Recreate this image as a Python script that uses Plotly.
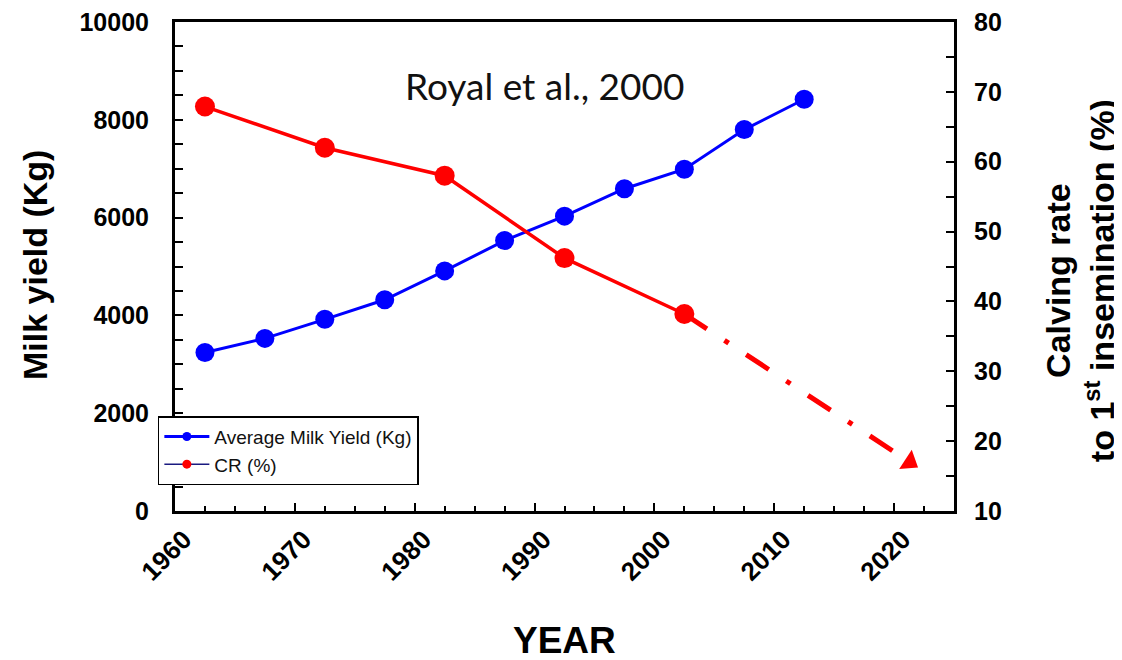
import plotly.graph_objects as go

# ---- data ----
milk_years = [1962.5, 1967.5, 1972.5, 1977.5, 1982.5, 1987.5, 1992.5, 1997.5, 2002.5, 2007.5, 2012.5]
milk_yield = [3240, 3530, 3920, 4320, 4910, 5530, 6030, 6590, 6990, 7800, 8420]

cr_years = [1962.5, 1972.5, 1982.5, 1992.5, 2002.5]
cr_values = [67.9, 62.0, 58.0, 46.2, 38.2]

proj_years = [2002.5, 2021.3]
proj_values = [38.2, 17.0]

x_label_vals = [1960, 1970, 1980, 1990, 2000, 2010, 2020]
x_label_text = ["1960", "1970", "1980", "1990", "2000", "2010", "2020"]
x_major_tick_vals = [1960, 1965, 1970, 1975, 1980, 1985, 1990, 1995, 2000, 2005, 2010, 2015, 2020, 2025]

BLUE = "#0000FF"
RED = "#FF0000"
FONT = "Liberation Sans, Arial, sans-serif"

fig = go.Figure()

fig.add_trace(go.Scatter(
    x=milk_years, y=milk_yield, mode="lines+markers",
    line=dict(color=BLUE, width=3), marker=dict(color=BLUE, size=19),
    showlegend=False, yaxis="y"))

fig.add_trace(go.Scatter(
    x=proj_years, y=proj_values, mode="lines+markers",
    line=dict(color=RED, width=5, dash="27px,21px,5px,21px"),
    marker=dict(color=RED, size=[0, 20], symbol=["circle", "triangle-up"],
                angle=[0, 123], opacity=1, line=dict(width=0)),
    showlegend=False, yaxis="y2"))

fig.add_trace(go.Scatter(
    x=cr_years, y=cr_values, mode="lines+markers",
    line=dict(color=RED, width=3.5), marker=dict(color=RED, size=20),
    showlegend=False, yaxis="y2"))

# legend entries
fig.add_trace(go.Scatter(
    x=[None], y=[None], mode="lines+markers", name="Average Milk Yield (Kg)",
    line=dict(color=BLUE, width=3), marker=dict(color=BLUE, size=9)))
fig.add_trace(go.Scatter(
    x=[None], y=[None], mode="lines+markers", name="CR (%)",
    line=dict(color="#1a1a80", width=1.5), marker=dict(color=RED, size=9)))

axis_common = dict(showline=True, linecolor="black", linewidth=3, showgrid=False,
                   zeroline=False, ticks="inside", tickcolor="black", tickwidth=2,
                   ticklabeloverflow="allow", automargin=False)

fig.update_layout(
    width=1114, height=652,
    margin=dict(l=167, r=168, t=14, b=149, autoexpand=False),
    paper_bgcolor="white", plot_bgcolor="white",
    xaxis=dict(range=[1960, 2025], tickmode="array", tickvals=x_label_vals, ticktext=x_label_text,
               ticklen=8, tickangle=-45, mirror=True, ticklabelshift=9,
               tickfont=dict(family=FONT, size=26, color="black", weight="bold"),
               minor=dict(dtick=2.5, tick0=1960, ticks="inside", ticklen=5, tickwidth=2, tickcolor="black"),
               **axis_common),
    xaxis2=dict(range=[1960, 2025], overlaying="x", anchor="y", side="bottom",
                tickmode="array", tickvals=x_major_tick_vals, showticklabels=False,
                ticks="inside", ticklen=8, tickwidth=2, tickcolor="black",
                showline=False, showgrid=False, zeroline=False, automargin=False),
    yaxis=dict(range=[0, 10000], dtick=2000, ticklen=8, tickformat="d", ticklabelstandoff=18,
               tickfont=dict(family=FONT, size=25, color="black", weight="bold"),
               minor=dict(dtick=500, ticks="inside", ticklen=8, tickwidth=2, tickcolor="black"),
               **axis_common),
    yaxis2=dict(range=[10, 80], dtick=10, ticklen=8, overlaying="y", side="right",
                ticklabelstandoff=12,
                tickfont=dict(family=FONT, size=25, color="black", weight="bold"),
                minor=dict(dtick=5, ticks="inside", ticklen=8, tickwidth=2, tickcolor="black"),
                **axis_common),
    legend=dict(x=-0.022, y=0.194, xanchor="left", yanchor="top",
                bgcolor="white", bordercolor="black", borderwidth=1.5,
                font=dict(family=FONT, size=19, color="#111"),
                itemwidth=45, tracegroupgap=0),
    annotations=[
        dict(text="Royal et al., 2000", x=0.474, y=0.871, xref="paper", yref="paper",
             xanchor="center", yanchor="middle",
             showarrow=False, font=dict(family="Lato, Open Sans, sans-serif", size=37, color="#111")),
        dict(text="Milk yield (Kg)", x=-0.1797, y=0.503, xref="paper", yref="paper",
             xanchor="center", yanchor="middle",
             textangle=-90, showarrow=False,
             font=dict(family=FONT, size=34, color="black", weight="bold")),
        dict(text="Calving rate<br>to 1<sup>st</sup> insemination (%)", x=1.1617, y=0.472,
             xref="paper", yref="paper", xanchor="center", yanchor="middle",
             textangle=-90, showarrow=False,
             font=dict(family=FONT, size=34, color="black", weight="bold")),
        dict(text="YEAR", x=0.5006, y=-0.264, xref="paper", yref="paper", showarrow=False,
             xanchor="center", yanchor="middle",
             font=dict(family=FONT, size=37, color="black", weight="bold")),
    ],
)

fig.write_html("out.html")
